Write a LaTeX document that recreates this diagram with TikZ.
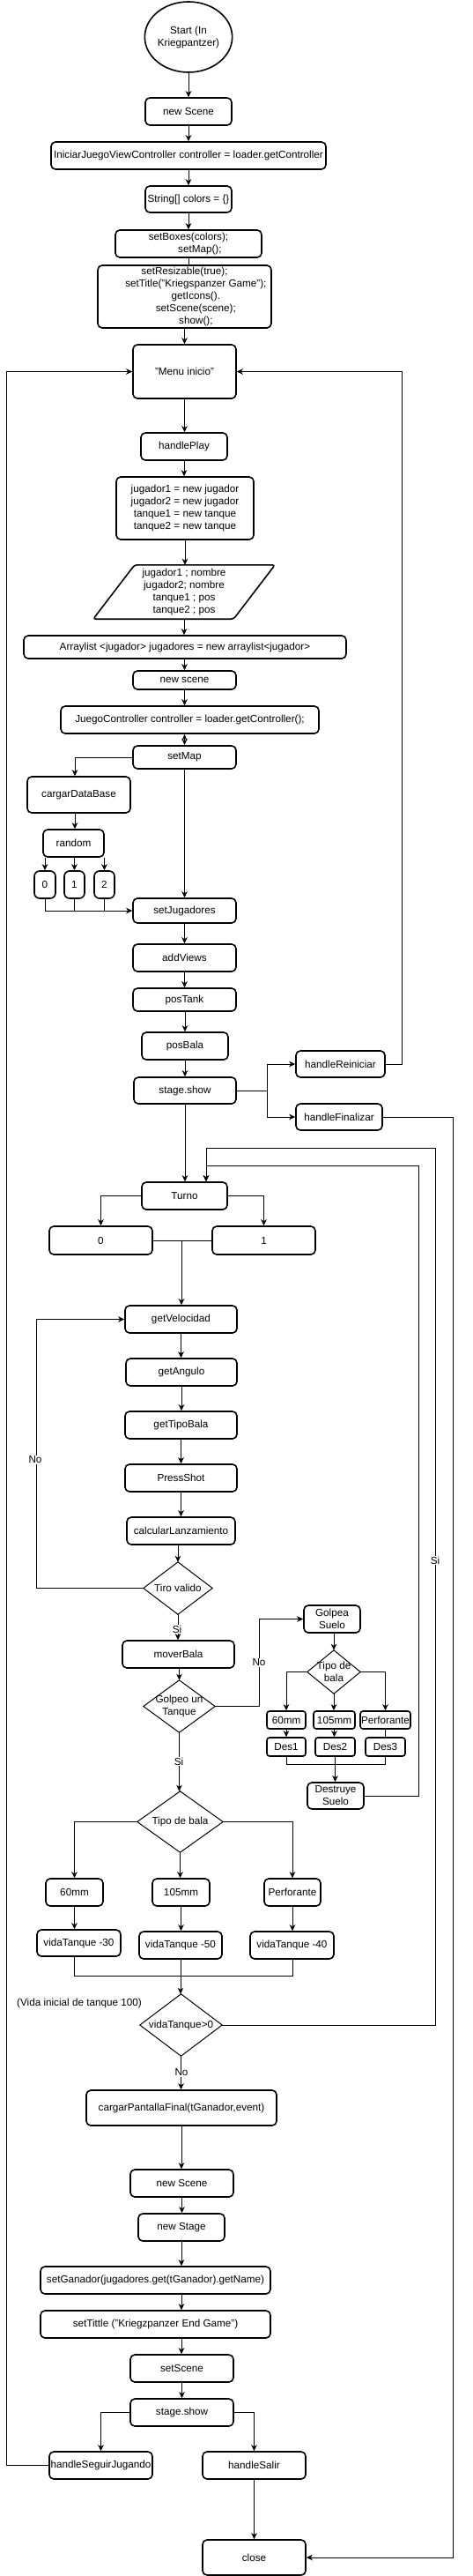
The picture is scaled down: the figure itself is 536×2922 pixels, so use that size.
\documentclass[tikz,border=0pt]{standalone}
\usepackage{fontspec}
\setmainfont{Liberation Sans}
\usetikzlibrary{shapes.geometric,arrows.meta}
\newcommand{\mybox}[6]{\node[box, minimum width=#4, minimum height=#5] (#1) at (#2,#3) {#6};}
\newcommand{\mydia}[6]{\node[dia, minimum width=#4, minimum height=#5] (#1) at (#2,#3) {#6};
  \draw[dline] (#1.north)--(#1.east)--(#1.south)--(#1.west)--cycle;}
\newcommand{\vcon}[2]{\draw[arr] (#1.south) -- (#1.south |- #2.north);}
\begin{document}
\begin{tikzpicture}[x=1pt,y=-1pt,
  font=\fontsize{11.7}{14}\selectfont,
  box/.style={draw, line width=1.6pt, rounded corners=5pt, inner sep=0pt, align=center, fill=white},
  dia/.style={inner sep=0pt, align=center},
  dline/.style={line width=1pt},
  arr/.style={line width=1pt, -{Stealth[length=7pt,width=6.5pt,inset=2pt]}},
  ln/.style={line width=1pt},
  lbl/.style={fill=white, inner sep=1pt}]
\useasboundingbox (0,0) rectangle (536,2922);

% ---------- nodes ----------
\node[draw, ellipse, line width=1.6pt, minimum width=98, minimum height=80, inner sep=0pt, align=center] (start) at (214,42) {Start (In\\Kriegpantzer)};
\mybox{ns1}{214}{126.5}{98}{31}{new Scene}
\mybox{ijvc}{214}{176.5}{312}{31}{IniciarJuegoViewController controller = loader.getController}
\mybox{colors}{214}{226}{98}{30}{String[] colors = \{\}}
\mybox{setBoxes}{214}{276.5}{166}{31}{setBoxes(colors);\\\hspace*{2.2em}setMap();}
\mybox{setRes}{209.5}{336.5}{197}{71}{setResizable(true);\\\hspace*{2.2em}setTitle("Kriegspanzer Game");\\\hspace*{2.2em}getIcons().\\\hspace*{2.2em}setScene(scene);\\\hspace*{2.2em}show();}
\mybox{menu}{209.5}{421.5}{117}{61}{"Menu inicio"}
\mybox{hPlay}{209}{506.5}{98}{31}{handlePlay}
\mybox{jug}{210}{576.5}{156}{71}{jugador1 = new jugador\\jugador2 = new jugador\\tanque1 = new tanque\\tanque2 = new tanque}
\node[dia, minimum width=206, minimum height=61] (para) at (209,671.5) {jugador1 ; nombre\\jugador2; nombre\\tanque1 ; pos\\tanque2 ; pos};
\draw[line width=1.6pt, rounded corners=3pt] ([xshift=47pt]para.north west) -- (para.north east) -- ([xshift=-47pt]para.south east) -- (para.south west) -- cycle;
\mybox{arrl}{210}{734}{366}{26}{Arraylist <jugador> jugadores = new arraylist<jugador>}
\mybox{ns2}{209.5}{771.5}{117}{21}{new scene}
\mybox{jc}{215.5}{816.5}{293}{31}{JuegoController controller = loader.getController();}
\mybox{setMap}{209.5}{859}{117}{26}{setMap}
\mybox{cdb}{89.5}{901.5}{117}{41}{cargarDataBase}
\mybox{random}{83.5}{956.5}{69}{31}{random}
\node[box, rounded corners=6pt, minimum width=24, minimum height=31] (r0) at (51,1003.5) {0};
\node[box, rounded corners=6pt, minimum width=23, minimum height=31] (r1) at (84.5,1003.5) {1};
\node[box, rounded corners=6pt, minimum width=23, minimum height=31] (r2) at (118.5,1003.5) {2};
\mybox{setJug}{209.5}{1033}{117}{28}{setJugadores}
\mybox{addViews}{209.5}{1086.5}{117}{31}{addViews}
\mybox{posTank}{209.5}{1134}{117}{26}{posTank}
\mybox{posBala}{210}{1186.5}{98}{31}{posBala}
\mybox{stageA}{210}{1237}{116}{30}{stage.show}
\mybox{hReini}{386.5}{1207}{101}{30}{handleReiniciar}
\mybox{hFin}{385}{1267}{98}{30}{handleFinalizar}
\mybox{turno}{209.5}{1356.5}{97}{31}{Turno}
\mybox{tA}{114.5}{1407}{117}{32}{0}
\mybox{tB}{299.5}{1407}{117}{32}{1}
\mybox{getVel}{205.5}{1496.5}{127}{31}{getVelocidad}
\mybox{getAng}{206}{1556.5}{126}{31}{getAngulo}
\mybox{getTipo}{205.5}{1616.5}{127}{31}{getTipoBala}
\mybox{press}{205.5}{1676.5}{127}{31}{PressShot}
\mybox{calc}{205.5}{1736.5}{123}{31}{calcularLanzamiento}
\mydia{tiro}{202}{1801.5}{78}{59}{Tiro valido}
\mybox{mover}{202.5}{1876.5}{127}{31}{moverBala}
\mydia{golpeo}{203.5}{1935.5}{81}{59}{Golpeo un\\Tanque}
\mybox{gsuelo}{377}{1836.5}{64}{31}{Golpea\\Suelo}
\mydia{tdbA}{379}{1896.5}{60}{49}{Tipo de\\bala}
\node[box, rounded corners=3pt, minimum width=44, minimum height=20] (sA) at (325,1951) {60mm};
\node[box, rounded corners=3pt, minimum width=47, minimum height=20] (sB) at (379.5,1951) {105mm};
\node[box, rounded corners=3pt, minimum width=57, minimum height=20] (sC) at (437.5,1951) {Perforante};
\node[box, rounded corners=3pt, minimum width=44, minimum height=21] (dA) at (325,1981.5) {Des1};
\node[box, rounded corners=3pt, minimum width=45, minimum height=21] (dB) at (380.5,1981.5) {Des2};
\node[box, rounded corners=3pt, minimum width=45, minimum height=21] (dC) at (437.5,1981.5) {Des3};
\mybox{dsuelo}{381}{2037}{64}{30}{Destruye\\Suelo}
\mydia{tdbB}{204.5}{2066.5}{97}{69}{Tipo de bala}
\mybox{bA}{84.5}{2146.5}{65}{31}{60mm}
\mybox{bB}{205.5}{2146.5}{65}{31}{105mm}
\mybox{bC}{332}{2146.5}{64}{31}{Perforante}
\mybox{vA}{89.5}{2204}{95}{30}{vidaTanque -30}
\mybox{vB}{205}{2206.5}{94}{31}{vidaTanque -50}
\mybox{vC}{331.5}{2206.5}{95}{31}{vidaTanque -40}
\node (note) at (90,2272) {(Vida inicial de tanque 100)};
\mydia{vt}{205.5}{2297}{93}{70}{vidaTanque>0}
\mybox{cpf}{206}{2391}{216}{40}{cargarPantallaFinal(tGanador,event)}
\mybox{nsC}{206.5}{2476.5}{117}{31}{new Scene}
\mybox{nstage}{206}{2526.5}{98}{31}{new Stage}
\mybox{setGan}{176.5}{2586.5}{261}{31}{setGanador(jugadores.get(tGanador).getName)}
\mybox{setTit}{176.5}{2636.5}{261}{31}{setTittle ("Kriegzpanzer End Game")}
\mybox{setSc}{206.5}{2686.5}{117}{31}{setScene}
\mybox{stageB}{206.5}{2736.5}{117}{31}{stage.show}
\mybox{hSeg}{114.5}{2796.5}{117}{31}{handleSeguirJugando}
\mybox{hSal}{288.5}{2796.5}{117}{31}{handleSalir}
\mybox{close}{288.5}{2901}{117}{40}{close}

% ---------- bend coordinates ----------
\coordinate (kR) at (456,0);
\coordinate (kL) at (7,0);
\coordinate (kF) at (514,0);
\coordinate (kD) at (475,1322);
\coordinate (kV) at (494,1302);
\coordinate (kT1) at (234,1322);
\coordinate (kT2) at (234,1302);
\coordinate (kS) at (303,1237);
\coordinate (kN) at (41,0);
\coordinate (kG) at (294,0);
\coordinate (kC) at (85,0);
\coordinate (kJ) at (206,1407);
\coordinate (kDs) at (381,2001);
\coordinate (kVj) at (205,2241);

% ---------- connectors ----------
\vcon{start}{ns1}
\vcon{ns1}{ijvc}
\vcon{ijvc}{colors}
\vcon{colors}{setBoxes}
\draw[ln] (setBoxes.south) -- (setBoxes.south |- setRes.north);
\vcon{setRes}{menu}
\vcon{menu}{hPlay}
\vcon{hPlay}{jug}
\vcon{jug}{para}
\draw[arr] (para.south) -- (para.south |- arrl.north);
\draw[arr] (arrl.south -| ns2) -- (ns2.north);
\vcon{ns2}{jc}
\draw[line width=1pt, {Stealth[length=7pt,width=6pt]}-{Stealth[length=7pt,width=6pt]}] (jc.south -| setMap) -- (setMap.north);
\draw[arr] (setMap.west) -| (kC |- cdb.north);
\draw[arr] (kC |- cdb.south) -- (kC |- random.north);
\draw[arr] (r0 |- random.south) -- (r0.north);
\draw[arr] (r1 |- random.south) -- (r1.north);
\draw[arr] (r2 |- random.south) -- (r2.north);
\draw[arr] (r0.south) |- (setJug.west);
\draw[ln] (r1.south) -- (r1 |- setJug.west);
\draw[ln] (r2.south) -- (r2 |- setJug.west);
\vcon{setMap}{setJug}
\vcon{setJug}{addViews}
\vcon{addViews}{posTank}
\draw[arr] (posTank.south -| posBala) -- (posBala.north);
\vcon{posBala}{stageA}
\draw[ln] (stageA.east) -- (kS);
\draw[arr] (kS) |- (hReini.west);
\draw[arr] (kS) |- (hFin.west);
\draw[arr] (hReini.east) -| (kR |- menu.east) -- (menu.east);
\draw[arr] (hFin.east) -| (kF |- close.east) -- (close.east);
\vcon{stageA}{turno}
\draw[arr] (turno.west) -| (tA.north);
\draw[arr] (turno.east) -| (tB.north);
\draw[ln] (tA.east) -- (tB.west);
\draw[arr] (kJ) -- (kJ |- getVel.north);
\draw[arr] (dsuelo.east) -| (kD) -- (kT1) -- (kT1 |- turno.north);
\draw[arr] (vt.east) -| (kV) -- (kT2) -- (kT2 |- turno.north);
\vcon{getVel}{getAng}
\vcon{getAng}{getTipo}
\vcon{getTipo}{press}
\vcon{press}{calc}
\draw[arr] (calc.south -| tiro) -- (tiro.north);
\draw[arr] (tiro.west) -| (kN |- getVel.west) -- (getVel.west);
\draw[arr] (tiro.south) -- (tiro.south |- mover.north);
\draw[arr] (mover.south -| golpeo) -- (golpeo.north);
\draw[arr] (golpeo.east) -| (kG |- gsuelo.west) -- (gsuelo.west);
\draw[arr] (gsuelo.south -| tdbA) -- (tdbA.north);
\draw[arr] (tdbA.west) -| (sA.north);
\draw[arr] (tdbA.east) -| (sC.north);
\draw[arr] (tdbA.south) -- (tdbA.south |- sB.north);
\vcon{sA}{dA}
\vcon{sB}{dB}
\draw[ln] (sC.south) -- (sC.south |- dC.north);
\draw[ln] (dA.south) |- (kDs) -| (dC.south);
\draw[arr] (dB.south) -- (dB.south |- dsuelo.north);
\draw[arr] (golpeo.south) -- (golpeo.south |- tdbB.north);
\draw[arr] (tdbB.west) -| (bA.north);
\draw[arr] (tdbB.east) -| (bC.north);
\draw[arr] (tdbB.south) -- (tdbB.south |- bB.north);
\vcon{bA}{vA}
\vcon{bB}{vB}
\vcon{bC}{vC}
\draw[ln] (bA |- vA.south) |- (kVj) -| (bC |- vC.south);
\draw[arr] (vB.south) -- (vB.south |- vt.north);
\draw[arr] (vt.south) -- (vt.south |- cpf.north);
\vcon{cpf}{nsC}
\vcon{nsC}{nstage}
\draw[arr] (nstage.south) -- (nstage.south |- setGan.north);
\draw[arr] (nstage.south |- setGan.south) -- (nstage.south |- setTit.north);
\draw[arr] (nstage.south |- setTit.south) -- (nstage.south |- setSc.north);
\vcon{setSc}{stageB}
\draw[arr] (stageB.west) -| (hSeg.north);
\draw[arr] (stageB.east) -| (hSal.north);
\draw[arr] (hSeg.west) -| (kL |- menu.west) -- (menu.west);
\vcon{hSal}{close}

% ---------- labels ----------
\node[lbl] (lNo1) at (40,1656) {No};
\node[lbl] (lSi1) at (201,1848) {Si};
\node[lbl] (lNo2) at (294,1886) {No};
\node[lbl] (lSi2) at (203,1998) {Si};
\node[lbl] (lSi3) at (494,1770) {Si};
\node[lbl] (lNo3) at (206,2351) {No};
\end{tikzpicture}
\end{document}
